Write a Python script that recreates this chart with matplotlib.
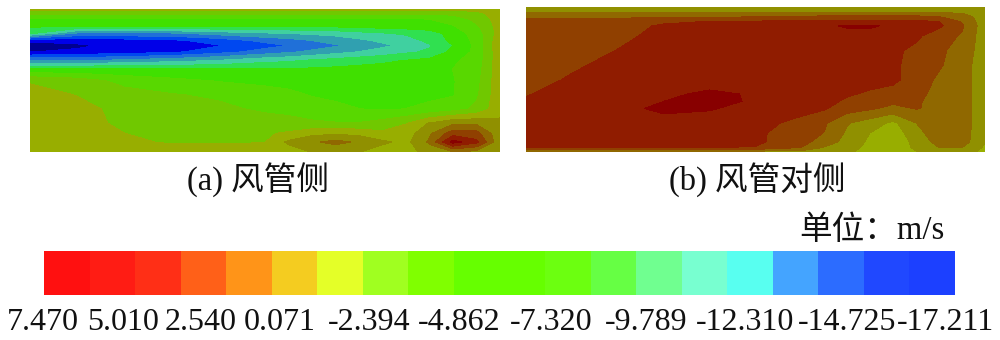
import numpy as np
import matplotlib
matplotlib.use('Agg')
import matplotlib.pyplot as plt
from matplotlib.colors import ListedColormap, BoundaryNorm

plt.rcParams['font.family'] = ['Liberation Serif', 'Noto Sans CJK SC']

tick_labels = ['7.470', '5.010', '2.540', '0.071', '-2.394', '-4.862', '-7.320', '-9.789', '-12.310', '-14.725', '-17.211']
tick_vals = [7.470, 5.010, 2.540, 0.071, -2.394, -4.862, -7.320, -9.789, -12.310, -14.725, -17.211]

# colours of the legend bar, left (high) to right (low)
bar_colors = ['#ff1010', '#ff1c14', '#ff2f16', '#ff6018', '#ff9418', '#f4cc20', '#e4ff28', '#a0ff20', '#80ff00', '#66ff00',
              '#66ff00', '#6cff10', '#66ff44', '#70ff90', '#78ffd0', '#58fff0', '#44a4ff', '#2c6cff', '#2048ff', '#1c40ff']
# colours of the contour fields, low to high
field_colors = ['#000090', '#0000e8', '#0048f0', '#2070d8', '#30a0b0', '#40d0a0', '#30e050', '#40e000', '#58d800', '#70c800',
                '#98ae00', '#909000', '#906800', '#904000', '#901c00', '#880000', '#800000', '#800000', '#800000', '#800000']

# panel (a), velocity in m/s
a_x = [0, .1, .2, .3, .4, .5, .55, .6, .65, .7, .75, .8, .85, .9, .95, 1]
a_y = [0, .03, .07, .12, .17, .22, .256, .30, .36, .42, .5, .6, .7, .8, .87, .93, 1]
a_v = [
    [-4.5, -4.5, -4.5, -4.5, -4.5, -4.5, -4.5, -4.5, -4.5, -4.5, -4.5, -4.5, -4.5, -4.5, -4.4, -4.3],
    [-5.8, -5.8, -5.8, -5.8, -5.8, -5.8, -5.8, -5.8, -5.8, -5.8, -5.8, -5.8, -5.8, -5.7, -5.2, -4.3],
    [-7.4, -7.4, -7.4, -7.4, -7.4, -7.4, -7.4, -7.4, -7.4, -7.4, -7.4, -7.4, -7.3, -6.9, -5.7, -4.3],
    [-8.4, -8.4, -8.4, -8.4, -8.4, -8.4, -8.4, -8.4, -8.3, -8.2, -8.0, -7.9, -7.7, -7.4, -6.3, -4.3],
    [-9.5, -12.5, -12.5, -12.5, -11.8, -11.2, -11.0, -10.8, -10.6, -10.2, -9.9, -9.6, -9.2, -8.0, -6.8, -4.3],
    [-15.6, -15.5, -15.3, -15.0, -14.2, -13.2, -12.8, -12.3, -11.8, -11.3, -10.8, -10.3, -9.5, -8.2, -7.0, -4.0],
    [-16.8, -16.2, -15.6, -15.2, -14.8, -13.95, -13.5, -13.0, -12.45, -11.9, -11.3, -10.7, -9.9, -8.57, -7.0, -3.8],
    [-16.0, -15.7, -15.3, -15.0, -14.0, -13.0, -12.5, -12.0, -11.5, -11.0, -10.5, -10.0, -9.6, -8.2, -7.0, -4.0],
    [-12.5, -12.5, -12.0, -11.5, -11.0, -10.2, -10.0, -9.6, -9.3, -9.0, -8.8, -8.5, -8.2, -7.5, -6.9, -4.0],
    [-8.4, -8.4, -8.4, -8.5, -8.5, -8.5, -8.4, -8.4, -8.3, -8.2, -8.1, -8.0, -7.9, -7.3, -6.7, -4.0],
    [-5.0, -5.5, -6.5, -7.0, -7.4, -7.7, -7.8, -7.9, -7.9, -7.9, -7.8, -7.8, -7.6, -7.4, -6.5, -4.0],
    [-4.4, -4.9, -5.6, -6.0, -6.3, -6.7, -7.0, -7.4, -7.6, -7.7, -7.8, -7.7, -7.6, -7.4, -6.3, -4.0],
    [-4.3, -4.5, -5.2, -5.5, -5.8, -6.3, -6.5, -6.7, -7.0, -7.3, -7.4, -7.3, -7.0, -6.6, -5.8, -4.0],
    [-4.2, -4.4, -5.1, -5.3, -5.4, -5.5, -5.6, -5.9, -6.0, -6.0, -5.6, -4.9, -3.5, -2.6, -2.6, -3.4],
    [-4.2, -4.3, -4.85, -5.3, -5.2, -5.0, -4.7, -4.0, -3.8, -4.0, -4.6, -4.3, -2.6, -0.5, -0.7, -3.4],
    [-4.2, -4.2, -4.6, -5.0, -5.0, -4.9, -3.4, -2.6, -2.0, -2.6, -3.4, -4.0, -2.2, 1.8, 0.4, -3.4],
    [-4.3, -4.3, -4.3, -4.3, -4.3, -4.3, -4.2, -3.6, -3.4, -3.6, -4.2, -4.3, -3.0, -2.5, -2.8, -3.6],
]

# panel (b)
b_x = [0, .1, .2, .3, .4, .5, .6, .65, .7, .75, .8, .85, .9, .95, .98, 1]
b_y = [0, .03, .065, .1, .13, .2, .3, .4, .5, .6, .65, .7, .8, .87, .93, .97, 1]
b_v = [
    [-3.0, -3.0, -3.0, -3.0, -3.0, -3.0, -3.0, -3.0, -3.0, -3.0, -3.0, -3.0, -3.0, -3.0, -3.0, -3.0],
    [-2.8, -2.8, -2.8, -2.8, -2.8, -2.7, -2.6, -2.6, -2.6, -2.6, -2.6, -2.6, -2.7, -2.8, -3.0, -3.0],
    [-1.5, -1.5, -1.5, -1.5, -1.4, -1.3, -1.1, -1.0, -1.0, -1.0, -1.0, -1.0, -1.2, -1.8, -2.6, -3.0],
    [-0.8, -0.6, -0.5, -0.1, 0.1, 0.2, 0.3, 0.3, 0.3, 0.3, 0.3, 0.3, 0.1, -1.3, -2.4, -3.0],
    [-0.6, -0.5, -0.3, 0.2, 0.5, 0.6, 0.7, 1.0, 1.5, 1.5, 1.0, 0.8, 0.3, -1.0, -2.3, -3.0],
    [-0.6, -0.4, -0.2, 0.4, 0.6, 0.6, 0.6, 0.7, 0.7, 0.7, 0.7, 0.3, -0.6, -1.3, -2.4, -3.0],
    [-0.8, -0.4, 0.1, 0.5, 0.7, 0.7, 0.7, 0.7, 0.7, 0.6, 0.3, -0.2, -0.9, -1.7, -2.5, -3.0],
    [-0.6, -0.1, 0.4, 0.7, 0.7, 0.7, 0.7, 0.7, 0.7, 0.6, 0.3, -0.4, -1.0, -1.9, -2.6, -3.0],
    [-0.4, 0.2, 0.6, 0.8, 0.8, 0.8, 0.7, 0.7, 0.6, 0.5, 0.3, -0.4, -1.4, -2.0, -2.6, -3.0],
    [0.0, 0.5, 0.8, 1.1, 1.5, 1.2, 0.8, 0.5, 0.2, -0.1, -0.3, -0.7, -1.7, -2.0, -2.6, -3.0],
    [0.2, 0.6, 0.9, 1.3, 1.8, 1.1, 0.7, 0.4, -0.1, -0.6, -0.9, -1.0, -1.6, -2.0, -2.6, -3.0],
    [0.3, 0.6, 0.9, 1.6, 1.4, 0.9, 0.5, 0.2, -0.6, -1.0, -1.5, -1.1, -1.4, -2.0, -2.6, -3.0],
    [0.4, 0.6, 0.7, 0.8, 0.8, 0.5, -0.3, -1.0, -2.3, -3.0, -3.9, -2.4, -1.6, -1.9, -2.6, -3.0],
    [0.4, 0.5, 0.5, 0.5, 0.5, 0.3, -0.6, -1.2, -2.6, -3.65, -4.4, -2.8, -1.7, -1.9, -2.7, -3.0],
    [0.4, 0.4, 0.4, 0.4, 0.4, 0.3, -0.7, -1.8, -2.8, -3.9, -4.4, -3.3, -1.9, -2.0, -2.7, -3.5],
    [0.1, 0.1, 0.1, 0.1, 0.1, 0.0, -1.2, -2.5, -3.0, -4.1, -4.4, -3.4, -2.4, -2.4, -3.0, -4.0],
    [-3.0, -3.0, -3.0, -3.0, -3.0, -3.0, -3.0, -3.2, -3.4, -4.2, -4.3, -3.7, -3.4, -3.4, -3.6, -4.0],
]

W, H = 1000, 340


def px_axes(fig, x0, y0, x1, y1):
    # axes placed with pixel coordinates, y from the top
    ax = fig.add_axes([x0 / W, 1 - y1 / H, (x1 - x0) / W, (y1 - y0) / H])
    ax.axis('off')
    return ax


def px_text(fig, x, y, s, size):
    fig.text(x / W, 1 - y / H, s, fontsize=size, ha='center', va='center', color='#111111')


# band edges: the tick values and the midpoints between them
ticks_up = np.array(tick_vals[::-1])
levels = np.sort(np.concatenate([ticks_up, (ticks_up[:-1] + ticks_up[1:]) / 2]))
field_cmap = ListedColormap(field_colors)
norm = BoundaryNorm(levels, field_cmap.N)

fig = plt.figure(figsize=(W / 100, H / 100), dpi=100)

ax_a = px_axes(fig, 30, 9, 500, 152)
ax_a.contourf(a_x, a_y, np.array(a_v), levels=levels, cmap=field_cmap, norm=norm)
ax_a.invert_yaxis()

ax_b = px_axes(fig, 526, 7, 985, 152)
ax_b.contourf(b_x, b_y, np.array(b_v), levels=levels, cmap=field_cmap, norm=norm)
ax_b.invert_yaxis()

px_text(fig, 258, 180, '(a) 风管侧', 23.5)
px_text(fig, 757, 180, '(b) 风管对侧', 23.5)
px_text(fig, 872, 231, '单位：m/s', 23.5)

# legend bar
ax_bar = px_axes(fig, 44, 251, 955, 295)
mids = (levels[:-1] + levels[1:]) / 2
bar_cmap = ListedColormap(bar_colors[::-1])
ax_bar.pcolormesh(np.arange(len(mids) + 1), [0, 1], [mids[::-1]], cmap=bar_cmap, norm=BoundaryNorm(levels, bar_cmap.N))

label_x = [43, 123, 201, 280, 369, 459, 551, 646, 745, 847, 945]
for x, s in zip(label_x, tick_labels):
    px_text(fig, x, 322, s, 23)

fig.savefig('out.png', dpi=100)
